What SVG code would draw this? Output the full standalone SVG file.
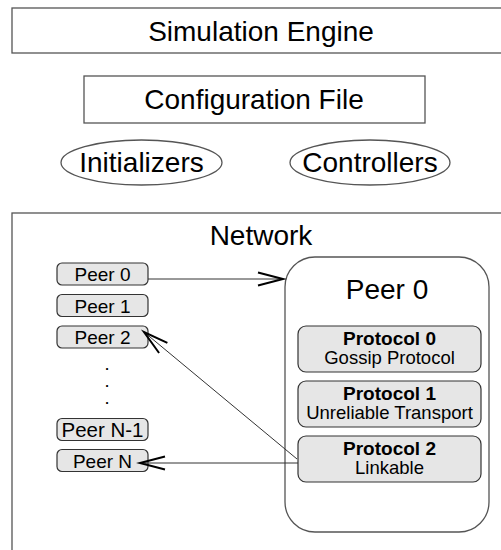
<svg xmlns="http://www.w3.org/2000/svg" width="501" height="550" viewBox="0 0 501 550">
<style>
text{font-family:"Liberation Sans",Arial,Helvetica,sans-serif;fill:#000;text-anchor:middle}
.big{font-size:28px}
.peer{font-size:19px}
.dot{font-size:13px;font-weight:bold}
.pb{font-size:19px;font-weight:bold}
.pr{font-size:18.5px}
.frame{fill:#fff;stroke:#555;stroke-width:1.3}
.pbox{fill:#e6e6e6;stroke:#333;stroke-width:1.2}
.conn{stroke:#333;stroke-width:1;fill:none}
</style>
<defs>
<marker id="arr" markerUnits="userSpaceOnUse" markerWidth="30" markerHeight="20" refX="0" refY="0" orient="auto" overflow="visible">
<path d="M-25,-6.5 L0,0 L-25,6.5" fill="none" stroke="#000" stroke-width="2"/>
</marker>
</defs>
<rect width="501" height="550" fill="#fff"/>
<g id="sim-engine">
<rect class="frame" x="12" y="8" width="500" height="45"/>
<text class="big" x="261" y="41">Simulation Engine</text>
</g>
<g id="config-file">
<rect class="frame" x="84" y="76" width="341" height="47"/>
<text class="big" x="254" y="109">Configuration File</text>
</g>
<g id="initializers">
<ellipse class="frame" cx="141.5" cy="162.5" rx="80.5" ry="22.5"/>
<text class="big" x="141.5" y="172">Initializers</text>
</g>
<g id="controllers">
<ellipse class="frame" cx="370" cy="162.5" rx="80" ry="22.5"/>
<text class="big" x="370" y="172">Controllers</text>
</g>
<g id="network">
<rect class="frame" x="12" y="213" width="500" height="350"/>
<text class="big" x="261" y="245">Network</text>
</g>
<g id="peer0-detail">
<rect class="frame" x="285" y="257" width="204" height="275" rx="30" ry="30"/>
<text class="big" x="387" y="299">Peer 0</text>
</g>
<g id="protocol0">
<rect class="pbox" x="298" y="326" width="183" height="46" rx="8"/>
<text class="pb" x="389.5" y="345">Protocol 0</text>
<text class="pr" x="389.5" y="364">Gossip Protocol</text>
</g>
<g id="protocol1">
<rect class="pbox" x="298" y="381" width="183" height="46" rx="8"/>
<text class="pb" x="389.5" y="400">Protocol 1</text>
<text class="pr" x="389.5" y="419">Unreliable Transport</text>
</g>
<g id="protocol2">
<rect class="pbox" x="298" y="436" width="183" height="46" rx="8"/>
<text class="pb" x="389.5" y="455">Protocol 2</text>
<text class="pr" x="389.5" y="474">Linkable</text>
</g>
<g id="peer-0">
<rect class="pbox" x="57" y="263" width="91" height="22" rx="5"/>
<text class="peer" x="102.5" y="281">Peer 0</text>
</g>
<g id="peer-1">
<rect class="pbox" x="57" y="294.5" width="91" height="22" rx="5"/>
<text class="peer" x="102.5" y="312.5">Peer 1</text>
</g>
<g id="peer-2">
<rect class="pbox" x="57" y="326" width="91" height="22" rx="5"/>
<text class="peer" x="102.5" y="344">Peer 2</text>
</g>
<g id="ellipsis">
<text class="dot" x="107" y="370">.</text>
<text class="dot" x="107" y="387">.</text>
<text class="dot" x="107" y="404">.</text>
</g>
<g id="peer-n-1">
<rect class="pbox" x="57" y="418.5" width="91" height="22" rx="5"/>
<text class="peer" x="102.5" y="436.5" style="font-size:20.5px">Peer N-1</text>
</g>
<g id="peer-n">
<rect class="pbox" x="57" y="449.5" width="91" height="22" rx="5"/>
<text class="peer" x="102.5" y="467.5">Peer N</text>
</g>
<g id="connectors">
<line class="conn" x1="148" y1="279" x2="283" y2="279" marker-end="url(#arr)"/>
<line class="conn" x1="297" y1="459" x2="144" y2="332" marker-end="url(#arr)"/>
<line class="conn" x1="298" y1="463" x2="140" y2="463" marker-end="url(#arr)"/>
</g>
</svg>
